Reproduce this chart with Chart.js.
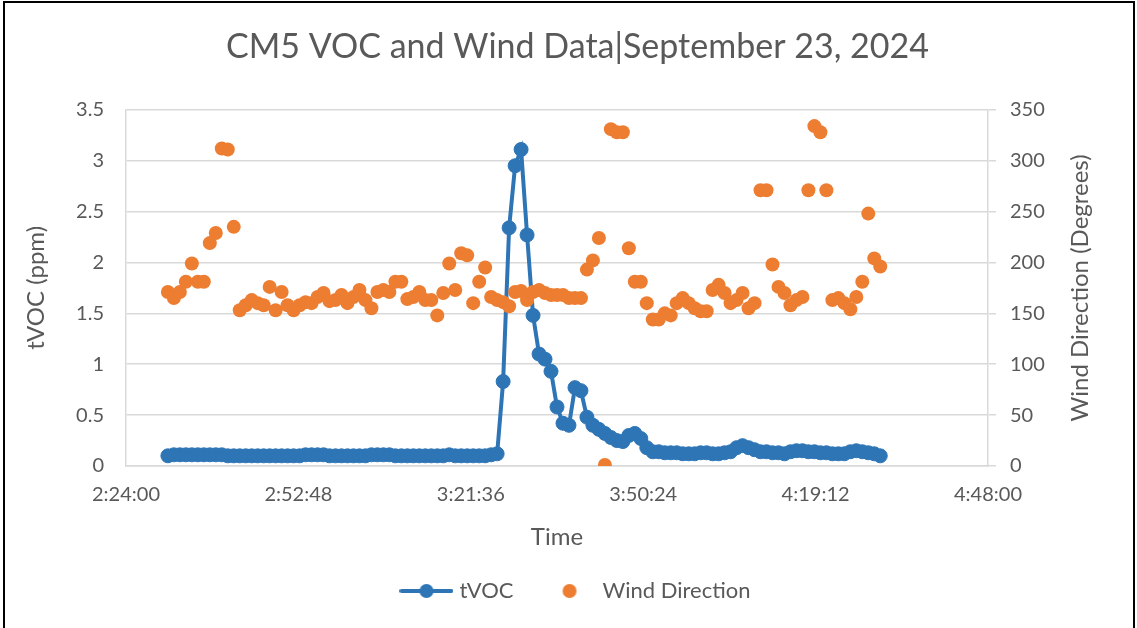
<!DOCTYPE html>
<html>
<head>
<meta charset="utf-8">
<title>CM5 VOC and Wind Data</title>
<script src="https://cdn.jsdelivr.net/npm/chart.js@4.4.1/dist/chart.umd.min.js"></script>
<style>
    html, body { margin: 0; padding: 0; background: #ffffff; }
    #wrap { position: relative; width: 1137px; height: 628px; overflow: hidden; }
    #frame { position: absolute; left: 3px; top: 1px; width: 1132px; height: 660px; border: 2px solid #000; box-sizing: border-box; pointer-events: none; }
    #chart { position: absolute; left: 0; top: 0; }
</style>
</head>
<body>
<div id="wrap">
    <canvas id="chart" width="1137" height="628"></canvas>
    <div id="frame"></div>
</div>
<script>
// Horas de muestreo (h:mm), una por minuto
const times = [
    '2:31','2:32','2:33','2:34','2:35','2:36','2:37','2:38','2:39','2:40',
    '2:41','2:42','2:43','2:44','2:45','2:46','2:47','2:48','2:49','2:50',
    '2:51','2:52','2:53','2:54','2:55','2:56','2:57','2:58','2:59','3:00',
    '3:01','3:02','3:03','3:04','3:05','3:06','3:07','3:08','3:09','3:10',
    '3:11','3:12','3:13','3:14','3:15','3:16','3:17','3:18','3:19','3:20',
    '3:21','3:22','3:23','3:24','3:25','3:26','3:27','3:28','3:29','3:30',
    '3:31','3:32','3:33','3:34','3:35','3:36','3:37','3:38','3:39','3:40',
    '3:41','3:42','3:43','3:44','3:45','3:46','3:47','3:48','3:49','3:50',
    '3:51','3:52','3:53','3:54','3:55','3:56','3:57','3:58','3:59','4:00',
    '4:01','4:02','4:03','4:04','4:05','4:06','4:07','4:08','4:09','4:10',
    '4:11','4:12','4:13','4:14','4:15','4:16','4:17','4:18','4:19','4:20',
    '4:21','4:22','4:23','4:24','4:25','4:26','4:27','4:28','4:29','4:30'
];

// tVOC (ppm)
const tvoc = [
    0.10,0.11,0.11,0.11,0.11,0.11,0.11,0.11,0.11,0.11,
    0.10,0.10,0.10,0.10,0.10,0.10,0.10,0.10,0.10,0.10,
    0.10,0.10,0.10,0.11,0.11,0.11,0.11,0.10,0.10,0.10,
    0.10,0.10,0.10,0.10,0.11,0.11,0.11,0.11,0.10,0.10,
    0.10,0.10,0.10,0.10,0.10,0.10,0.10,0.11,0.10,0.10,
    0.10,0.10,0.10,0.10,0.11,0.12,0.83,2.34,2.95,3.11,
    2.27,1.48,1.10,1.05,0.93,0.58,0.42,0.40,0.77,0.74,
    0.48,0.40,0.36,0.32,0.28,0.25,0.24,0.30,0.32,0.27,
    0.18,0.14,0.14,0.13,0.13,0.13,0.12,0.12,0.12,0.13,
    0.13,0.12,0.12,0.13,0.14,0.18,0.20,0.18,0.16,0.14,
    0.14,0.13,0.13,0.12,0.14,0.15,0.15,0.14,0.14,0.13,
    0.13,0.12,0.12,0.12,0.14,0.15,0.14,0.13,0.12,0.10
];

// Dirección del viento (grados)
const windDir = [
    171,165,171,181,199,181,181,219,229,312,
    311,235,153,158,163,160,158,176,153,171,
    158,153,158,161,160,166,170,162,163,168,
    160,166,173,163,155,171,173,171,181,181,
    164,166,171,163,163,148,170,199,173,209,
    207,160,181,195,166,163,161,157,171,172,
    163,171,173,170,168,168,168,165,165,165,
    193,202,224,1,331,328,328,214,181,181,
    160,144,144,150,148,160,165,160,155,152,
    152,173,178,170,160,163,170,155,160,271,
    271,198,176,170,158,163,166,271,334,328,
    271,163,165,160,154,166,181,248,204,196
];

// Eje X en minutos desde medianoche
const xTickValues = [144, 172.8, 201.6, 230.4, 259.2, 288];
const xTickLabels = ['2:24:00', '2:52:48', '3:21:36', '3:50:24', '4:19:12', '4:48:00'];
const yTickLabels = ['0', '0.5', '1', '1.5', '2', '2.5', '3', '3.5'];
const y1TickLabels = ['0', '50', '100', '150', '200', '250', '300', '350'];

const BLUE = '#2E75B6';
const ORANGE = '#ED7D31';
const TEXT = '#595959';
const GRID = '#D9D9D9';

function toMinutes(t) {
    const parts = t.split(':');
    return parseInt(parts[0], 10) * 60 + parseInt(parts[1], 10);
}

// Símbolos de la leyenda al estilo Excel
function legendSymbol(color, withLine) {
    const c = document.createElement('canvas');
    c.width = 54;
    c.height = 20;
    const g = c.getContext('2d');
    if (withLine) {
        g.strokeStyle = color;
        g.lineWidth = 4;
        g.lineCap = 'round';
        g.beginPath();
        g.moveTo(2, 10);
        g.lineTo(52, 10);
        g.stroke();
    }
    g.fillStyle = color;
    g.beginPath();
    g.arc(27, 10, 7, 0, Math.PI * 2);
    g.fill();
    return c;
}

// Título del eje derecho, leído de abajo hacia arriba
const rightTitle = {
    id: 'rightTitle',
    afterDraw(chart) {
        const ctx = chart.ctx;
        const area = chart.chartArea;
        const scale = chart.scales.y1;
        ctx.save();
        ctx.translate(scale.right - 57, (area.top + area.bottom) / 2);
        ctx.rotate(-Math.PI / 2);
        ctx.font = '24px Lato';
        ctx.fillStyle = TEXT;
        ctx.textAlign = 'center';
        ctx.textBaseline = 'middle';
        ctx.fillText('Wind Direction (Degrees)', 0, 0);
        ctx.restore();
    }
};

Chart.defaults.font.family = 'Lato';
Chart.defaults.color = TEXT;

const ctx = document.getElementById('chart').getContext('2d');
new Chart(ctx, {
    type: 'line',
    data: {
        datasets: [{
            label: 'tVOC',
            data: times.map((t, i) => ({ x: toMinutes(t), y: tvoc[i] })),
            yAxisID: 'y',
            borderColor: BLUE,
            backgroundColor: BLUE,
            borderWidth: 4,
            pointRadius: 7,
            pointBorderWidth: 1,
            pointBackgroundColor: BLUE,
            pointBorderColor: BLUE,
            tension: 0,
            order: 2
        }, {
            label: 'Wind Direction',
            data: times.map((t, i) => ({ x: toMinutes(t), y: windDir[i] })),
            yAxisID: 'y1',
            showLine: false,
            borderColor: ORANGE,
            backgroundColor: ORANGE,
            pointRadius: 7,
            pointBorderWidth: 0,
            pointBackgroundColor: ORANGE,
            order: 1
        }]
    },
    options: {
        responsive: false,
        animation: false,
        layout: {
            padding: { left: 18, right: 0, top: 0, bottom: 16 }
        },
        plugins: {
            title: {
                display: true,
                text: 'CM5 VOC and Wind Data|September 23, 2024',
                color: TEXT,
                font: { size: 34, weight: 'normal' },
                padding: { top: 27, bottom: 42 }
            },
            legend: {
                position: 'bottom',
                labels: {
                    color: TEXT,
                    font: { size: 22 },
                    usePointStyle: true,
                    pointStyleWidth: 44,
                    padding: 34,
                    sort: (a, b) => a.datasetIndex - b.datasetIndex,
                    generateLabels: function(chart) {
                        const items = Chart.defaults.plugins.legend.labels.generateLabels(chart);
                        items.forEach(item => {
                            item.pointStyle = item.datasetIndex === 0
                                ? legendSymbol(BLUE, true)
                                : legendSymbol(ORANGE, false);
                        });
                        return items;
                    }
                }
            },
            tooltip: { enabled: false }
        },
        scales: {
            x: {
                type: 'linear',
                min: 144,
                max: 288,
                afterBuildTicks: function(scale) {
                    scale.ticks = xTickValues.map(v => ({ value: v }));
                },
                afterFit: function(scale) {
                    scale.height = 80;
                },
                ticks: {
                    font: { size: 20 },
                    color: TEXT,
                    padding: 17,
                    maxRotation: 0,
                    callback: function(value, index) {
                        return xTickLabels[index];
                    }
                },
                grid: { display: false, drawTicks: false },
                border: { display: true, color: GRID, width: 1.5 },
                title: {
                    display: true,
                    text: 'Time',
                    color: TEXT,
                    font: { size: 24, lineHeight: 0.75 },
                    padding: { top: 0, bottom: 0 }
                }
            },
            y: {
                position: 'left',
                min: 0,
                max: 3.5,
                afterFit: function(scale) {
                    scale.width = 108;
                },
                ticks: {
                    stepSize: 0.5,
                    font: { size: 20 },
                    color: TEXT,
                    padding: 22,
                    callback: function(value, index) {
                        return yTickLabels[index];
                    }
                },
                grid: { color: GRID, lineWidth: 1.5, drawTicks: false },
                border: { display: true, color: GRID, width: 1.5 },
                title: {
                    display: true,
                    text: 'tVOC (ppm)',
                    color: TEXT,
                    font: { size: 24 },
                    padding: { top: 3.6, bottom: 0 }
                }
            },
            y1: {
                position: 'right',
                min: 0,
                max: 350,
                afterFit: function(scale) {
                    scale.width = 149;
                },
                ticks: {
                    stepSize: 50,
                    font: { size: 20 },
                    color: TEXT,
                    padding: 14,
                    callback: function(value, index) {
                        return y1TickLabels[index];
                    }
                },
                grid: { drawOnChartArea: false, drawTicks: true, tickLength: 8, color: GRID, lineWidth: 1.5 },
                border: { display: true, color: GRID, width: 1.5 },
                title: { display: false }
            }
        }
    },
    plugins: [rightTitle]
});
</script>
</body>
</html>
